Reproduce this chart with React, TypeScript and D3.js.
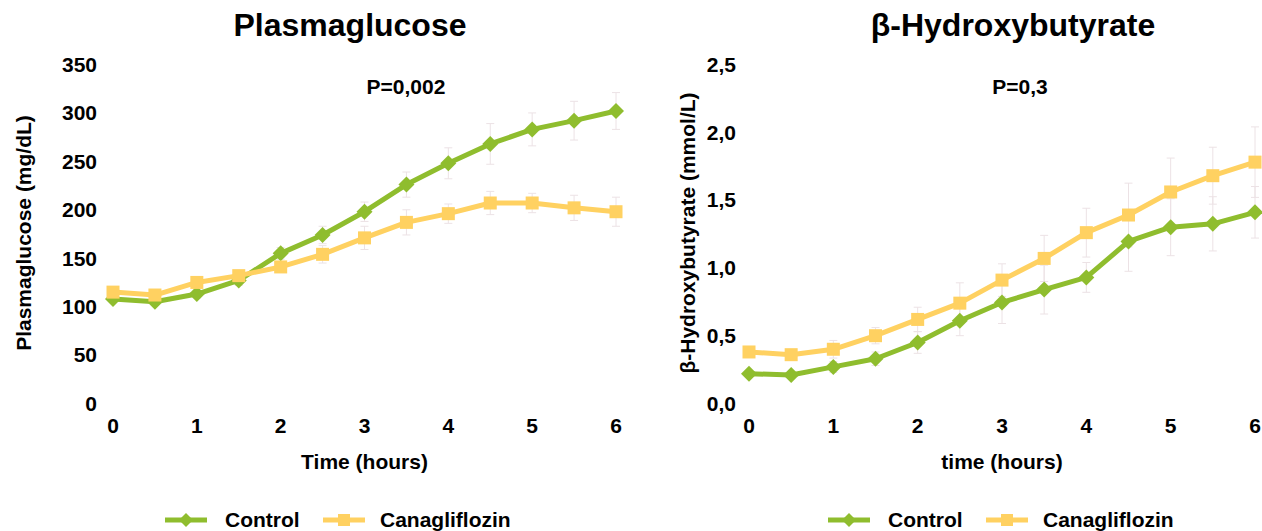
import * as d3 from "d3";

const hours = [0, 0.5, 1, 1.5, 2, 2.5, 3, 3.5, 4, 4.5, 5, 5.5, 6];
const xTicks = [0, 1, 2, 3, 4, 5, 6];

// Plasmaglucose (mg/dL)
const glucoseControl = [108, 105, 113, 127, 155, 174, 198, 226, 248, 268, 283, 292, 302];
const glucoseControlErr = [3, 3, 4, 5, 6, 9, 10, 13, 16, 21, 17, 20, 19];
const glucoseCana = [115, 112, 125, 132, 141, 154, 171, 187, 196, 207, 207, 202, 198];
const glucoseCanaErr = [3, 3, 4, 4, 5, 9, 12, 13, 10, 12, 10, 13, 15];
const glucoseTicks = [0, 50, 100, 150, 200, 250, 300, 350];

// beta-Hydroxybutyrate (mmol/L)
const bhbControl = [0.22, 0.21, 0.27, 0.33, 0.45, 0.61, 0.745, 0.84, 0.93, 1.195, 1.3, 1.325, 1.41];
const bhbControlErr = [0.02, 0.02, 0.04, 0.05, 0.08, 0.11, 0.155, 0.18, 0.11, 0.22, 0.21, 0.2, 0.19];
const bhbCana = [0.38, 0.36, 0.4, 0.5, 0.62, 0.74, 0.91, 1.07, 1.26, 1.39, 1.56, 1.68, 1.78];
const bhbCanaErr = [0.03, 0.03, 0.065, 0.06, 0.09, 0.15, 0.12, 0.17, 0.18, 0.235, 0.25, 0.21, 0.26];
const bhbTicks = [0, 0.5, 1, 1.5, 2, 2.5];

const green = "#8fbd2e";
const yellow = "#ffd161";
const errColor = "#ece2e5";
const font = "Liberation Sans, Arial, sans-serif";

function Diamond({ cx, cy, r = 8 }) {
  return <path d={`M${cx},${cy - r}L${cx + r},${cy}L${cx},${cy + r}L${cx - r},${cy}Z`} fill={green} />;
}

function Square({ cx, cy, s = 13 }) {
  return <rect x={cx - s / 2} y={cy - s / 2} width={s} height={s} fill={yellow} />;
}

function Panel({ title, titleX, pLabel, pX, yTitle, yTitleX, xTitle, xRange, yMax, yTicks, fmt, tickRight,
                 control, controlErr, cana, canaErr, legendX }) {
  const x = d3.scaleLinear([0, 6], xRange);
  const y = d3.scaleLinear([0, yMax], [403.5, 64.5]);
  const line = d3.line<number>().x((d, i) => x(hours[i])).y(d => y(d));
  const cx = (xRange[0] + xRange[1]) / 2;

  const errBars = (vals, errs, dir) => vals.map((v, i) => {
    const px = x(hours[i]);
    const y0 = y(v - errs[i]);
    const y1 = y(v + errs[i]);
    return (
      <g key={dir + i} stroke={errColor} strokeWidth={1}>
        <line x1={px} x2={px} y1={y0} y2={y1} />
        <line x1={px - 4} x2={px + 4} y1={y0} y2={y0} />
        <line x1={px - 4} x2={px + 4} y1={y1} y2={y1} />
      </g>
    );
  });

  return (
    <g fontFamily={font} fontWeight="bold" fill="#000">
      <text x={titleX} y={36} fontSize={32} textAnchor="middle">{title}</text>
      <text x={pX} y={94} fontSize={21} textAnchor="middle">{pLabel}</text>
      {yTicks.map(t => (
        <text key={t} x={tickRight} y={y(t)} dy="0.35em" fontSize={21} textAnchor="end">{fmt(t)}</text>
      ))}
      {xTicks.map(t => (
        <text key={t} x={x(t)} y={433} fontSize={21} textAnchor="middle">{t}</text>
      ))}
      <text x={cx} y={469} fontSize={21} textAnchor="middle">{xTitle}</text>
      <text transform={`translate(${yTitleX},233) rotate(-90)`} fontSize={21} textAnchor="middle">{yTitle}</text>

      {errBars(control, controlErr, "c")}
      {errBars(cana, canaErr, "k")}

      <path d={line(control)} fill="none" stroke={green} strokeWidth={5} strokeLinejoin="round" />
      {control.map((v, i) => <Diamond key={i} cx={x(hours[i])} cy={y(v)} />)}
      <path d={line(cana)} fill="none" stroke={yellow} strokeWidth={5} strokeLinejoin="round" />
      {cana.map((v, i) => <Square key={i} cx={x(hours[i])} cy={y(v)} />)}

      <g transform={`translate(${legendX},520)`}>
        <line x1={0} x2={42} y1={0} y2={0} stroke={green} strokeWidth={5} />
        <Diamond cx={21} cy={0} r={7} />
        <text x={60} y={0} dy="0.35em" fontSize={21}>Control</text>
        <line x1={158} x2={200} y1={0} y2={0} stroke={yellow} strokeWidth={5} />
        <Square cx={179} cy={0} s={12} />
        <text x={215} y={0} dy="0.35em" fontSize={21}>Canagliflozin</text>
      </g>
    </g>
  );
}

export default function App() {
  return (
    <svg width={1262} height={531} style={{ position: "absolute", left: 0, top: 0 }}>
      <rect width={1262} height={531} fill="#fff" />
      <Panel
        title="Plasmaglucose" titleX={350} pLabel="P=0,002" pX={406}
        yTitle="Plasmaglucose (mg/dL)" yTitleX={31} xTitle="Time (hours)"
        xRange={[113, 616]} yMax={350} yTicks={glucoseTicks} fmt={d => String(d)} tickRight={97}
        control={glucoseControl} controlErr={glucoseControlErr}
        cana={glucoseCana} canaErr={glucoseCanaErr} legendX={165}
      />
      <Panel
        title="β-Hydroxybutyrate" titleX={1013} pLabel="P=0,3" pX={1020}
        yTitle="β-Hydroxybutyrate (mmol/L)" yTitleX={695} xTitle="time (hours)"
        xRange={[749, 1255]} yMax={2.5} yTicks={bhbTicks} fmt={d => d.toFixed(1).replace(".", ",")} tickRight={736}
        control={bhbControl} controlErr={bhbControlErr}
        cana={bhbCana} canaErr={bhbCanaErr} legendX={828}
      />
    </svg>
  );
}
